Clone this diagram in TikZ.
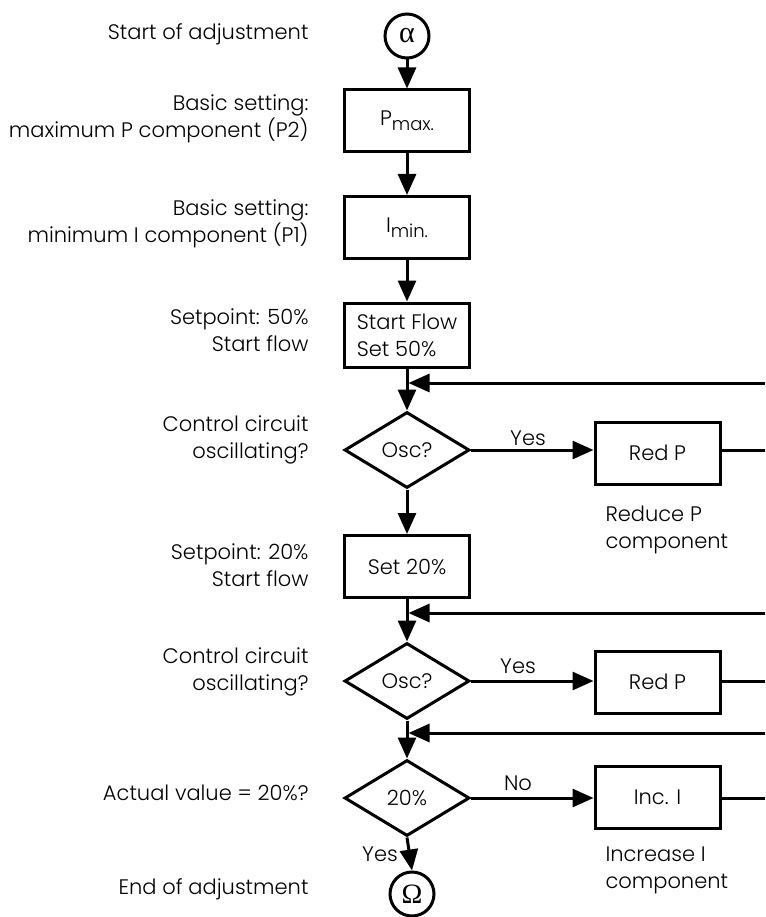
\documentclass[tikz,border=0pt]{standalone}
\usepackage{fontspec}
\setmainfont{Poppins Light}
\newfontfamily\symfont{Liberation Serif}
\usetikzlibrary{shapes.geometric,arrows.meta}

\begin{document}
\begin{tikzpicture}[
  x=1pt, y=-1pt,
  line width=3pt,
  >={Triangle[length=21pt,width=18pt]},
  txt/.style={font=\fontsize{21}{27}\selectfont, inner sep=0pt},
  note/.style={txt, anchor=east, align=right},
  caption/.style={txt, anchor=north west, align=left},
  stepbox/.style={txt, draw, minimum width=125pt, minimum height=62pt, align=left},
  decision/.style={txt, draw, diamond, minimum width=125pt, minimum height=76pt, line join=miter},
  term/.style={draw, circle, minimum size=44pt, inner sep=0pt}
]
\useasboundingbox (0,0) rectangle (765,917);

% main column
\node[term] (alpha) at (407,36) {\symfont\fontsize{30}{30}\selectfont α};
\node[stepbox] (pmax) at (407,121) {P{\fontsize{18}{18}\selectfont\raisebox{-5pt}{max.}}};
\node[stepbox] (imin) at (407,227.5) {I{\fontsize{18}{18}\selectfont\raisebox{-5pt}{min.}}};
\node[stepbox, minimum height=64pt] (sf) at (407,335) {Start Flow\\Set 50\%};
\node[decision] (d1) at (407,450) {Osc?};
\node[stepbox] (s20) at (407,566.5) {Set 20\%};
\node[decision] (d2) at (407,681) {Osc?};
\node[decision] (d3) at (407,798) {20\%};
\node[term] (omega) at (412,894) {\symfont\fontsize{28}{28}\selectfont Ω};

% correction branch
\node[stepbox] (rp1) at (657.5,453) {Red P};
\node[stepbox] (rp2) at (657.5,682) {Red P};
\node[stepbox] (inc) at (657.5,797.5) {Inc. I};

% loose ends of the return lines
\coordinate (f1) at (765,383);
\coordinate (f2) at (765,613);
\coordinate (f3) at (765,733);
\coordinate (e1) at (765,450);
\coordinate (e2) at (765,681);
\coordinate (e3) at (765,798);

% flow
\draw[->] (alpha) -- (pmax);
\draw[->] (pmax) -- (imin);
\draw[->] (imin) -- (sf);
\draw[->] (sf) -- (d1);
\draw[->] (d1) -- (s20);
\draw[->] (s20) -- (d2);
\draw[->] (d2) -- (d3);
\draw[->] (d3.south) -- (omega.north);

\draw[->] (d1.east) -- (d1.east -| rp1.west);
\draw[->] (d2.east) -- (d2.east -| rp2.west);
\draw[->] (d3.east) -- (d3.east -| inc.west);
\draw (rp1.east |- e1) -- (e1);
\draw (rp2.east |- e2) -- (e2);
\draw (inc.east |- e3) -- (e3);

\draw[->, shorten >=1.5pt] (f1) -- (sf.south |- f1);
\draw[->, shorten >=1.5pt] (f2) -- (s20.south |- f2);
\draw[->, shorten >=1.5pt] (f3) -- (d2.south |- f3);

% branch labels
\node[txt] (y1) at (528,438) {Yes};
\node[txt] (y2) at (518,666) {Yes};
\node[txt] (no) at (518,783) {No};
\node[txt] (y3) at (380,854) {Yes};

\node[caption] (c1) at (604,504) {Reduce P\\component};
\node[caption] (c2) at (604,845) {Increase I\\component};

% step descriptions
\node[note] (n0) at (310,34) {Start of adjustment};
\node[note] (n1) at (310,119) {Basic setting:\\maximum P component (P2)};
\node[note] (n2) at (310,224) {Basic setting:\\minimum I component (P1)};
\node[note] (n3) at (310,330) {Setpoint: 50\%\\Start flow};
\node[note] (n4) at (310,440) {Control circuit\\oscillating?};
\node[note] (n5) at (310,565) {Setpoint: 20\%\\Start flow};
\node[note] (n6) at (310,672) {Control circuit\\oscillating?};
\node[note] (n7) at (310,793) {Actual value = 20\%?};
\node[note] (n8) at (310,889) {End of adjustment};
\end{tikzpicture}
\end{document}
